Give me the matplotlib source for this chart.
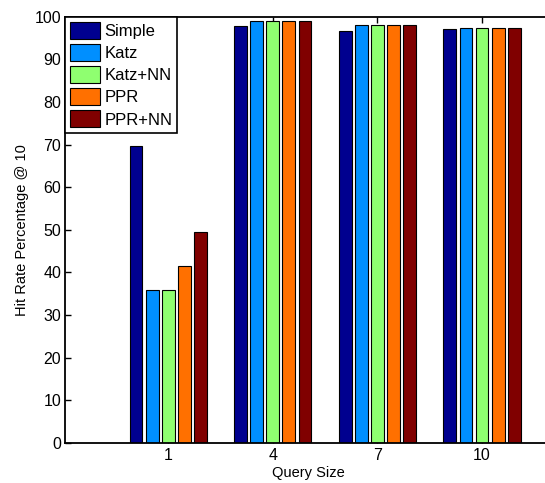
import numpy as np
import matplotlib
matplotlib.use("Agg")
import matplotlib.pyplot as plt

# hit rate @ 10 for each method, per query size
query_sizes = [1, 4, 7, 10]
methods = ["Simple", "Katz", "Katz+NN", "PPR", "PPR+NN"]
simple = [69.6, 97.9, 96.7, 97.2]
katz = [35.9, 98.9, 98.0, 97.3]
katz_nn = [35.9, 98.9, 98.0, 97.3]
ppr = [41.5, 98.9, 98.0, 97.3]
ppr_nn = [49.5, 98.9, 98.0, 97.3]

# jet colormap, 5 entries
colors = [(0, 0, 0.5625), (0, 0.5625, 1), (0.5625, 1, 0.4375), (1, 0.4375, 0), (0.5, 0, 0)]

plt.rcParams['font.family'] = ['Liberation Sans', 'DejaVu Sans']

fig = plt.figure(figsize=(5.45, 4.83), dpi=100)
ax = fig.add_axes([0.1198, 0.0834, 0.8927, 0.882])

series = [simple, katz, katz_nn, ppr, ppr_nn]
x = np.array(query_sizes, dtype=float)
pitch = 3 * 0.769 / len(series)
width = 0.8 * pitch
for i, (vals, name) in enumerate(zip(series, methods)):
    offs = (i - (len(series) - 1) / 2) * pitch
    ax.bar(x + offs, vals, width, color=colors[i], edgecolor='black',
           linewidth=0.8, label=name, zorder=2)

ax.set_xlim(-1.95, 12)
ax.set_ylim(0, 100)
ax.set_xticks(query_sizes)
ax.set_yticks(range(0, 101, 10))
ax.tick_params(direction='in', length=4, width=1, top=True, right=True,
               labelsize=11.5, pad=4)
ax.tick_params(axis='y', pad=3)
for s in ax.spines.values():
    s.set_linewidth(1.3)

ax.set_xlabel("Query Size", fontsize=10.5, labelpad=2)
ax.set_ylabel("Hit Rate Percentage @ 10", fontsize=10.5, labelpad=4)

leg = ax.legend(loc='upper left', borderaxespad=0, fontsize=12,
                fancybox=False, framealpha=1, edgecolor='black',
                handlelength=1.8, handleheight=1.2, handletextpad=0.25,
                labelspacing=0.3, borderpad=0.3)
leg.get_frame().set_linewidth(1.2)

fig.savefig("out.png", dpi=100)
